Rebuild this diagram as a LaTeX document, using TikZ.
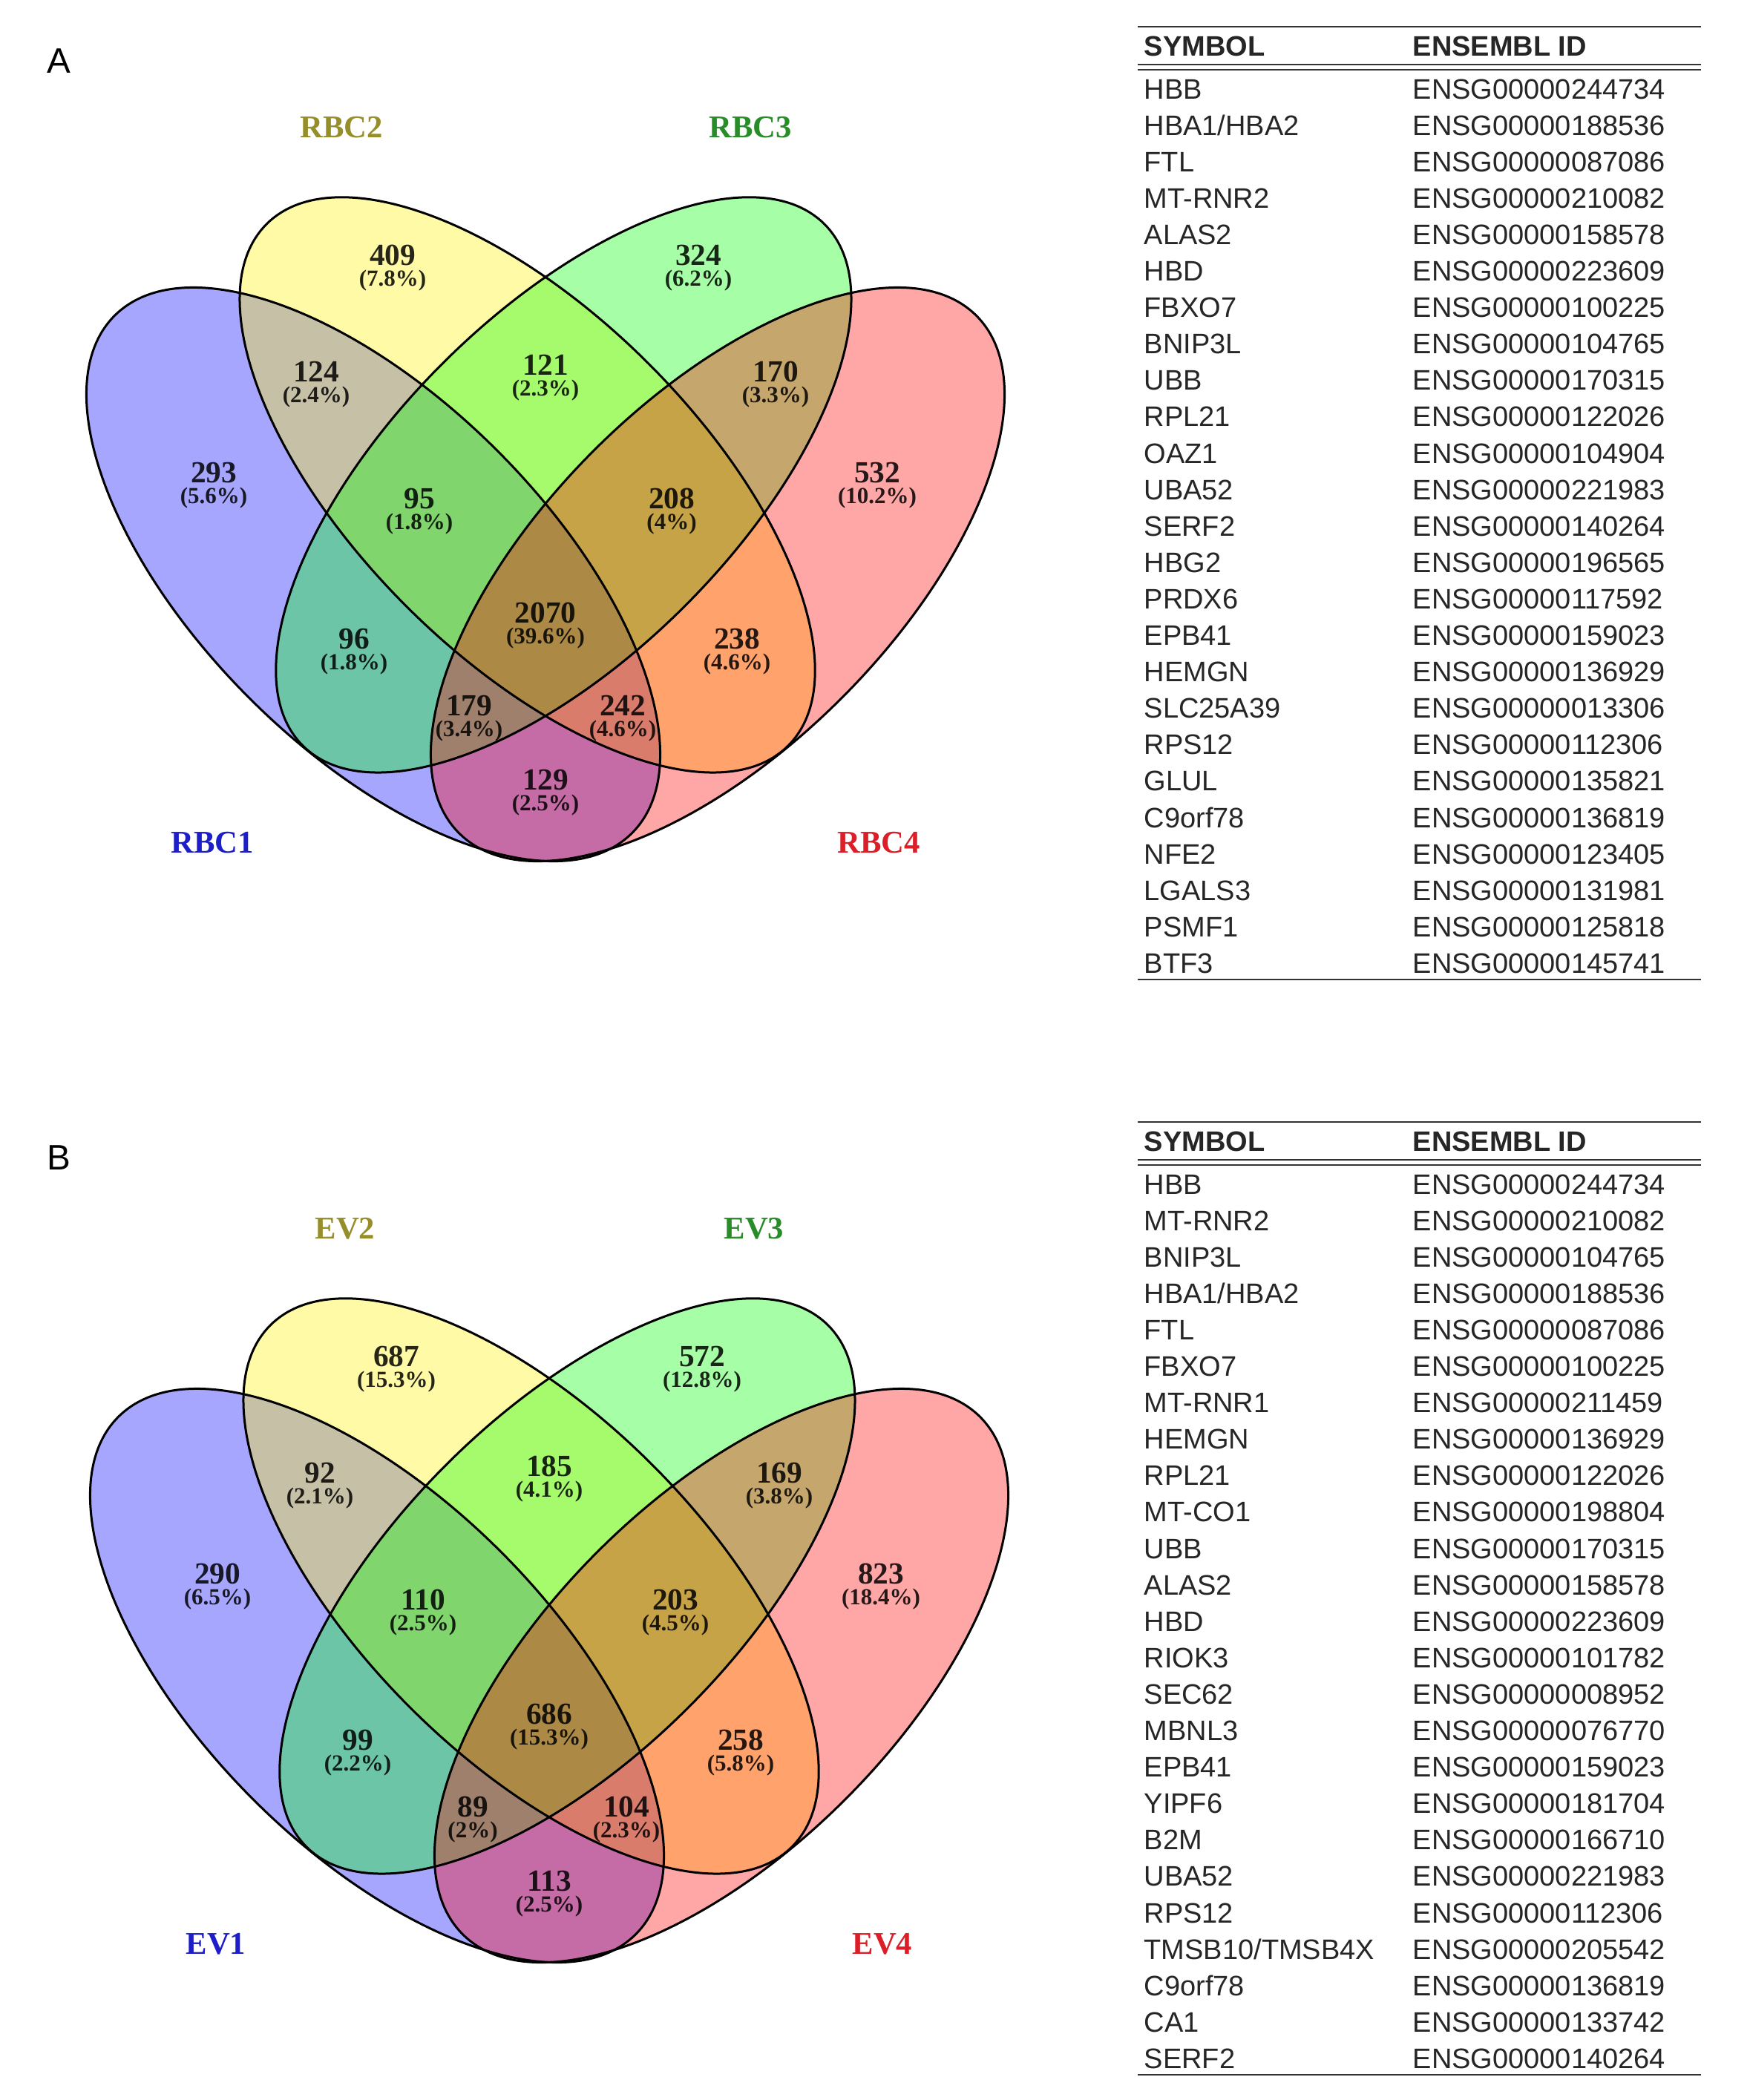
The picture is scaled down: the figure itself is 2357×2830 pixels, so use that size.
\documentclass[tikz,border=0pt]{standalone}
\usepackage{fontspec}
\setmainfont{Liberation Serif}
\newfontfamily\arialfont{Liberation Sans}
\definecolor{cone}{RGB}{30,30,200}
\definecolor{ctwo}{RGB}{150,142,40}
\definecolor{cthree}{RGB}{40,140,40}
\definecolor{cfour}{RGB}{220,30,40}
\tikzset{
  vfill/.style={fill opacity=0.35},
  vline/.style={draw=black, line width=0.9pt},
  vnum/.style={font=\bfseries\fontsize{12.4pt}{12.4pt}\selectfont, inner sep=0pt, text=black, text opacity=0.85},
  vpct/.style={font=\bfseries\fontsize{9.3pt}{9.3pt}\selectfont, inner sep=0pt, text=black, text opacity=0.85},
  setlab/.style={font=\bfseries\fontsize{12.8pt}{12.8pt}\selectfont, inner sep=0pt},
  panel/.style={font=\arialfont\fontsize{14.3pt}{14.3pt}\selectfont, inner sep=0pt},
  tabtxt/.style={font=\arialfont\fontsize{11.4pt}{11.4pt}\selectfont, anchor=base west, inner sep=0pt, text=black!85},
  tabhead/.style={font=\arialfont\bfseries\fontsize{11.4pt}{11.4pt}\selectfont, anchor=base west, inner sep=0pt, text=black!85},
  tabrule/.style={line width=0.8pt, draw=black!80},
}
\newcommand{\VN}[5]{%
  \node[vnum] (#1n) at (#2,#3) {#4};
  \node[vpct] (#1p) at (#2,{#3+34}) {(#5\%)};
}
\newcommand{\VennShapes}{%
  \fill[vfill, fill=blue]   (503,774)   circle [x radius=147.9pt, y radius=70.8pt, rotate=-45];
  \fill[vfill, fill=yellow] (710.6,653.4) circle [x radius=149.1pt, y radius=69.3pt, rotate=-45];
  \fill[vfill, fill=green]  (759.4,653.4) circle [x radius=149.1pt, y radius=69.3pt, rotate=45];
  \fill[vfill, fill=red]    (967,774)   circle [x radius=147.9pt, y radius=70.8pt, rotate=45];
  \draw[vline] (503,774)   circle [x radius=147.9pt, y radius=70.8pt, rotate=-45];
  \draw[vline] (710.6,653.4) circle [x radius=149.1pt, y radius=69.3pt, rotate=-45];
  \draw[vline] (759.4,653.4) circle [x radius=149.1pt, y radius=69.3pt, rotate=45];
  \draw[vline] (967,774)   circle [x radius=147.9pt, y radius=70.8pt, rotate=45];
}
\newcommand{\GeneTable}[3]{%
  \begin{scope}[shift={(0,#2)}]
    \coordinate (#1-t1) at (1533,36);   \coordinate (#1-t2) at (2292,36);
    \coordinate (#1-d1) at (1533,87);   \coordinate (#1-d2) at (2292,87);
    \coordinate (#1-d3) at (1533,94);   \coordinate (#1-d4) at (2292,94);
    \coordinate (#1-b1) at (1533,1320); \coordinate (#1-b2) at (2292,1320);
    \draw[tabrule] (#1-t1) -- (#1-t2);
    \draw[tabrule] (#1-d1) -- (#1-d2);
    \draw[tabrule] (#1-d3) -- (#1-d4);
    \draw[tabrule] (#1-b1) -- (#1-b2);
    \node[tabhead] (#1-h1) at (1541,75) {SYMBOL};
    \node[tabhead] (#1-h2) at (1903,75) {ENSEMBL ID};
    \foreach \s/\e [count=\i] in {#3} {
      \node[tabtxt] (#1-s\i) at (1541,{133+49.1*(\i-1)}) {\s};
      \node[tabtxt] (#1-e\i) at (1903,{133+49.1*(\i-1)}) {\e};
    }
  \end{scope}
}
\begin{document}
\begin{tikzpicture}[x=0.3pt, y=-0.3pt]
\useasboundingbox (0,0) rectangle (2357,2830);
\fill[white] (0,0) rectangle (2357,2830);

% ---------------- Panel A ----------------
\node[panel] (pA) at (79,82) {A};
\VennShapes
\node[setlab, text=cone]   (a-l1) at (286,1136) {RBC1};
\node[setlab, text=ctwo]   (a-l2) at (460,172)  {RBC2};
\node[setlab, text=cthree] (a-l3) at (1011,172) {RBC3};
\node[setlab, text=cfour]  (a-l4) at (1184,1136) {RBC4};
\VN{a-y}{529}{344}{409}{7.8}
\VN{a-g}{941}{344}{324}{6.2}
\VN{a-ab}{426}{501}{124}{2.4}
\VN{a-bc}{735}{492}{121}{2.3}
\VN{a-cd}{1045}{501}{170}{3.3}
\VN{a-a}{288}{637}{293}{5.6}
\VN{a-abc}{565}{672}{95}{1.8}
\VN{a-bcd}{905}{672}{208}{4}
\VN{a-d}{1182}{637}{532}{10.2}
\VN{a-all}{735}{826}{2070}{39.6}
\VN{a-ac}{477}{861}{96}{1.8}
\VN{a-bd}{993}{861}{238}{4.6}
\VN{a-acd}{632}{951}{179}{3.4}
\VN{a-abd}{839}{951}{242}{4.6}
\VN{a-ad}{735}{1051}{129}{2.5}

\GeneTable{ta}{0}{HBB/ENSG00000244734, {HBA1/HBA2}/ENSG00000188536, FTL/ENSG00000087086, MT-RNR2/ENSG00000210082, ALAS2/ENSG00000158578, HBD/ENSG00000223609, FBXO7/ENSG00000100225, BNIP3L/ENSG00000104765, UBB/ENSG00000170315, RPL21/ENSG00000122026, OAZ1/ENSG00000104904, UBA52/ENSG00000221983, SERF2/ENSG00000140264, HBG2/ENSG00000196565, PRDX6/ENSG00000117592, EPB41/ENSG00000159023, HEMGN/ENSG00000136929, SLC25A39/ENSG00000013306, RPS12/ENSG00000112306, GLUL/ENSG00000135821, C9orf78/ENSG00000136819, NFE2/ENSG00000123405, LGALS3/ENSG00000131981, PSMF1/ENSG00000125818, BTF3/ENSG00000145741}

% ---------------- Panel B ----------------
\node[panel] (pB) at (79,1560) {B};
\begin{scope}[shift={(5,1484)}]
\VennShapes
\node[setlab, text=cone]   (b-l1) at (286,1136) {EV1};
\node[setlab, text=ctwo]   (b-l2) at (460,172)  {EV2};
\node[setlab, text=cthree] (b-l3) at (1011,172) {EV3};
\node[setlab, text=cfour]  (b-l4) at (1184,1136) {EV4};
\VN{b-y}{529}{344}{687}{15.3}
\VN{b-g}{941}{344}{572}{12.8}
\VN{b-ab}{426}{501}{92}{2.1}
\VN{b-bc}{735}{492}{185}{4.1}
\VN{b-cd}{1045}{501}{169}{3.8}
\VN{b-a}{288}{637}{290}{6.5}
\VN{b-abc}{565}{672}{110}{2.5}
\VN{b-bcd}{905}{672}{203}{4.5}
\VN{b-d}{1182}{637}{823}{18.4}
\VN{b-all}{735}{826}{686}{15.3}
\VN{b-ac}{477}{861}{99}{2.2}
\VN{b-bd}{993}{861}{258}{5.8}
\VN{b-acd}{632}{951}{89}{2}
\VN{b-abd}{839}{951}{104}{2.3}
\VN{b-ad}{735}{1051}{113}{2.5}
\end{scope}

\GeneTable{tb}{1476}{HBB/ENSG00000244734, MT-RNR2/ENSG00000210082, BNIP3L/ENSG00000104765, {HBA1/HBA2}/ENSG00000188536, FTL/ENSG00000087086, FBXO7/ENSG00000100225, MT-RNR1/ENSG00000211459, HEMGN/ENSG00000136929, RPL21/ENSG00000122026, MT-CO1/ENSG00000198804, UBB/ENSG00000170315, ALAS2/ENSG00000158578, HBD/ENSG00000223609, RIOK3/ENSG00000101782, SEC62/ENSG00000008952, MBNL3/ENSG00000076770, EPB41/ENSG00000159023, YIPF6/ENSG00000181704, B2M/ENSG00000166710, UBA52/ENSG00000221983, RPS12/ENSG00000112306, {TMSB10/TMSB4X}/ENSG00000205542, C9orf78/ENSG00000136819, CA1/ENSG00000133742, SERF2/ENSG00000140264}
\end{tikzpicture}
\end{document}
